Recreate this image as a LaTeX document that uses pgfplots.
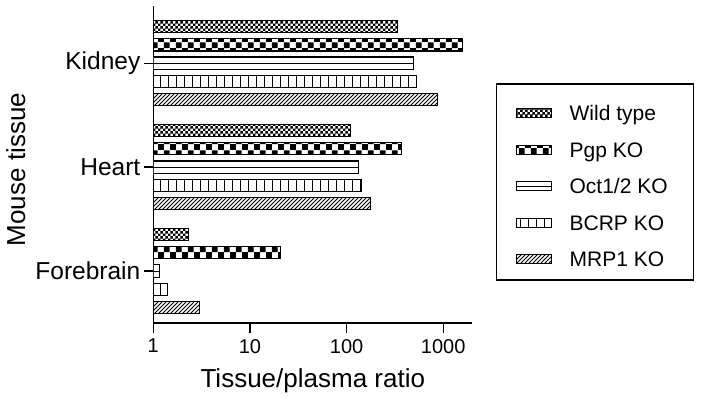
\documentclass[border=0pt]{standalone}
\usepackage{pgfplots}
\pgfplotsset{compat=1.18}
\usepackage{fontspec}
\setmainfont{Liberation Sans}
\usetikzlibrary{patterns}

\pgfdeclarepatternformonly{finecheck}{\pgfqpoint{0pt}{0pt}}{\pgfqpoint{4.952pt}{4.952pt}}{\pgfqpoint{4.952pt}{4.952pt}}{
  \pgfpathrectangle{\pgfqpoint{0pt}{0pt}}{\pgfqpoint{2.5pt}{2.5pt}}
  \pgfpathrectangle{\pgfqpoint{2.476pt}{2.476pt}}{\pgfqpoint{2.5pt}{2.5pt}}
  \pgfusepath{fill}}
\pgfdeclarepatternformonly{bigcheck}{\pgfqpoint{0pt}{0pt}}{\pgfqpoint{12.236pt}{12.236pt}}{\pgfqpoint{12.236pt}{12.236pt}}{
  \pgfpathrectangle{\pgfqpoint{0pt}{0pt}}{\pgfqpoint{6.15pt}{6.15pt}}
  \pgfpathrectangle{\pgfqpoint{6.118pt}{6.118pt}}{\pgfqpoint{6.15pt}{6.15pt}}
  \pgfusepath{fill}}
\pgfdeclarepatternformonly{vlines8}{\pgfqpoint{-1pt}{-1pt}}{\pgfqpoint{9pt}{9pt}}{\pgfqpoint{8pt}{8pt}}{
  \pgfsetlinewidth{1pt}
  \pgfpathmoveto{\pgfqpoint{0.5pt}{-0.1pt}}
  \pgfpathlineto{\pgfqpoint{0.5pt}{8.1pt}}
  \pgfusepath{stroke}}
\pgfdeclarepatternformonly{nelines4}{\pgfqpoint{-1pt}{-1pt}}{\pgfqpoint{5pt}{5pt}}{\pgfqpoint{4pt}{4pt}}{
  \pgfsetlinewidth{0.9pt}
  \pgfpathmoveto{\pgfqpoint{0pt}{0pt}}
  \pgfpathlineto{\pgfqpoint{4.1pt}{4.1pt}}
  \pgfusepath{stroke}}

\pgfplotsset{
  barlegend/.style={legend image code/.code={\draw[##1, line width=1pt] (0pt,-8.5pt) rectangle (35pt,0.5pt);}},
  octlegend/.style={legend image code/.code={\draw[##1, line width=1pt] (0pt,-8.5pt) rectangle (35pt,0.5pt); \draw[line width=1pt] (0pt,-4pt) -- (35pt,-4pt);}},
}

\begin{document}
\begin{tikzpicture}
\useasboundingbox (-153.3pt,-81pt) rectangle (547.7pt,323pt);
\begin{axis}[
  scale only axis, width=319pt, height=317pt,
  xmode=log, xmin=1, xmax=2000,
  ymin=-0.5, ymax=2.55,
  xbar, bar width=0.1177,
  axis lines=left,
  axis line style={-, line width=1.3pt},
  every tick/.style={black, line width=1.3pt},
  tick align=outside, major tick length=9.5pt,
  xminorticks=false,
  xtick={1,10,100,1000}, xticklabels={1,10,100,1000},
  ytick={0,1,2}, yticklabels={Forebrain,Heart,Kidney},
  /pgf/number format/assume math mode=true,
  xticklabel style={font=\fontsize{20}{24}\selectfont, yshift=-3pt},
  yticklabel style={font=\fontsize{24.5}{28}\selectfont},
  xlabel={Tissue/plasma ratio},
  ylabel={Mouse tissue},
  xlabel style={font=\fontsize{26}{30}\selectfont, at={(axis description cs:0.5,-0.2019)}, anchor=base},
  ylabel style={font=\fontsize{26}{30}\selectfont, at={(axis description cs:-0.402,0.484)}, anchor=base},
  legend style={at={(axis description cs:1.0743,0.756)}, anchor=north west,
    draw=black, line width=1.2pt, inner xsep=19pt, inner ysep=7pt,
    font=\fontsize{21}{25}\selectfont, row sep=0.4pt, column sep=18pt,
    nodes={inner sep=0pt, text height=29.9pt, text depth=6.2pt}},
  legend cell align=left,
  barlegend,
]
\addplot[draw=black, line width=1.1pt, pattern=finecheck, bar shift=0.352]
  coordinates {(339,2) (110,1) (2.30,0)};
\addplot[draw=black, line width=1.1pt, pattern=bigcheck, bar shift=0.176]
  coordinates {(1585,2) (370,1) (20.9,0)};
\addplot[draw=black, line width=1.1pt, fill=white, bar shift=0, octlegend]
  coordinates {(489,2) (134,1) (1.15,0)};
\addplot[draw=black, line width=1pt, bar width=0pt, bar shift=0, forget plot]
  coordinates {(489,2) (134,1) (1.15,0)};
\addplot[draw=black, line width=1.1pt, pattern=vlines8, bar shift=-0.176]
  coordinates {(530,2) (141,1) (1.40,0)};
\addplot[draw=black, line width=1.1pt, pattern=nelines4, bar shift=-0.352]
  coordinates {(865,2) (177,1) (2.99,0)};
\legend{Wild type, Pgp KO, Oct1/2 KO\hspace*{7pt}, BCRP KO, MRP1 KO}
\end{axis}
\end{tikzpicture}
\end{document}
